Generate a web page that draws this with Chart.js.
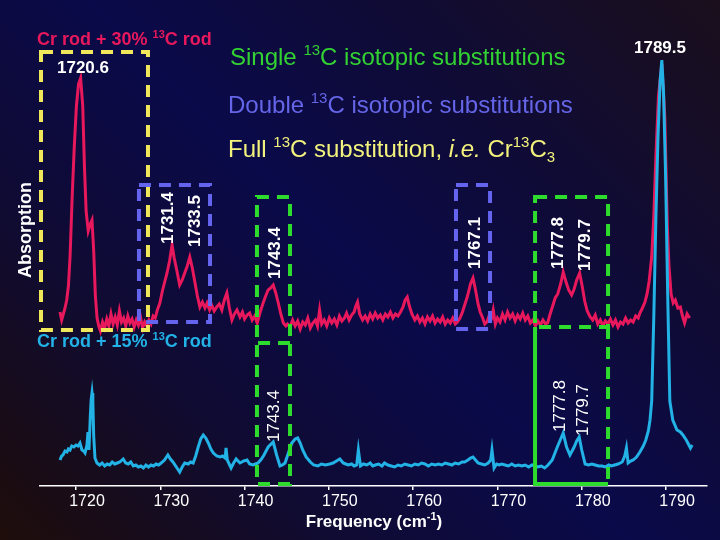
<!DOCTYPE html>
<html>
<head>
<meta charset="utf-8">
<script src="https://cdn.jsdelivr.net/npm/chart.js@4.4.1/dist/chart.umd.min.js"></script>
<style>
  html, body { margin: 0; padding: 0; }
  body {
    width: 720px; height: 540px; overflow: hidden;
    background: linear-gradient(45deg, #1e0d0a 0%, #0f0b34 28%, #0a0a4a 50%, #0f0b36 72%, #1b0f1c 100%);
  }
  canvas { display: block; }
</style>
</head>
<body>
<canvas id="c" width="720" height="540"></canvas>
<script>
// ---------- data (frequency in cm-1, absorption in arbitrary units) ----------
const tickVals = [1720, 1730, 1740, 1750, 1760, 1770, 1780, 1790];

// Cr rod + 30% 13C rod (upper, offset trace)
const redFreq = [
1718.10,1718.30,1718.50,1718.70,1718.90,1719.10,1719.30,1719.55,1719.80,1720.05,1720.30,1720.55,1720.80,1721.00,1721.20,1721.45,1721.70,1721.90,1722.10,1722.30,
1722.50,1722.70,1722.90,1723.15,1723.40,1723.65,1723.90,1724.15,1724.40,1724.65,1724.90,1725.15,1725.40,1725.65,1725.90,1726.15,1726.40,1726.65,1726.90,1727.15,
1727.40,1727.65,1727.90,1728.15,1728.40,1728.65,1728.90,1729.15,1729.40,1729.65,1729.95,1730.25,1730.55,1730.80,1731.10,1731.40,1731.65,1731.95,1732.30,1732.60,
1732.90,1733.20,1733.50,1733.80,1734.10,1734.40,1734.70,1735.00,1735.30,1735.55,1735.85,1736.10,1736.40,1736.70,1737.00,1737.30,1737.60,1737.90,1738.20,1738.50,
1738.80,1739.10,1739.45,1739.75,1740.00,1740.30,1740.60,1740.90,1741.20,1741.50,1741.85,1742.20,1742.50,1742.80,1743.10,1743.40,1743.70,1744.00,1744.30,1744.60,
1744.90,1745.10,1745.40,1745.70,1746.00,1746.30,1746.60,1746.90,1747.20,1747.50,1747.80,1748.10,1748.40,1748.65,1748.90,1749.15,1749.45,1749.75,1750.05,1750.35,
1750.65,1750.95,1751.25,1751.55,1751.85,1752.10,1752.40,1752.70,1753.00,1753.20,1753.40,1753.65,1754.00,1754.30,1754.60,1754.90,1755.20,1755.50,1755.80,1756.10,
1756.40,1756.70,1757.00,1757.30,1757.60,1757.90,1758.20,1758.50,1758.80,1759.05,1759.30,1759.55,1759.85,1760.20,1760.50,1760.80,1761.10,1761.40,1761.70,1762.00,
1762.30,1762.60,1762.90,1763.20,1763.50,1763.80,1764.10,1764.40,1764.70,1765.00,1765.25,1765.55,1765.85,1766.15,1766.45,1766.80,1767.10,1767.40,1767.70,1767.95,
1768.25,1768.50,1768.75,1769.00,1769.30,1769.50,1769.75,1770.00,1770.30,1770.60,1770.90,1771.20,1771.50,1771.80,1772.10,1772.40,1772.70,1773.00,1773.30,1773.60,
1773.90,1774.20,1774.50,1774.80,1775.10,1775.40,1775.70,1775.95,1776.25,1776.55,1776.85,1777.15,1777.50,1777.80,1778.10,1778.45,1778.80,1779.10,1779.40,1779.75,
1780.05,1780.35,1780.65,1781.00,1781.30,1781.60,1781.90,1782.20,1782.50,1782.80,1783.10,1783.40,1783.70,1784.00,1784.30,1784.60,1784.90,1785.20,1785.50,1785.80,
1786.10,1786.40,1786.70,1786.90,1787.20,1787.50,1787.75,1788.00,1788.30,1788.55,1788.80,1789.10,1789.50,1789.85,1790.15,1790.35,1790.60,1790.85,1791.10,1791.40,
1791.70,1791.95,1792.20,1792.50,1792.80];
const redAbs = [
1.74,1.66,1.72,1.78,1.86,2.00,2.30,2.90,3.40,3.80,4.02,4.08,3.80,3.20,2.75,2.55,2.62,2.66,2.35,1.90,
1.68,1.60,1.55,1.64,1.58,1.67,1.60,1.72,1.62,1.69,1.61,1.75,1.64,1.68,1.60,1.70,1.63,1.67,1.59,1.66,
1.61,1.69,1.58,1.64,1.60,1.66,1.62,1.70,1.68,1.76,1.83,1.95,2.05,2.13,2.25,2.41,2.28,2.16,2.01,2.06,
2.13,2.20,2.29,2.18,2.04,1.90,1.79,1.84,1.78,1.83,1.76,1.81,1.75,1.79,1.82,1.76,1.86,1.93,1.78,1.66,
1.72,1.76,1.69,1.74,1.67,1.71,1.73,1.66,1.70,1.63,1.74,1.83,1.90,1.96,1.98,2.01,1.93,1.83,1.72,1.63,
1.60,1.62,1.59,1.66,1.60,1.65,1.57,1.64,1.61,1.68,1.58,1.63,1.66,1.60,1.76,1.62,1.66,1.60,1.68,1.63,
1.67,1.61,1.70,1.65,1.68,1.73,1.66,1.71,1.74,1.80,1.84,1.72,1.66,1.70,1.65,1.72,1.67,1.73,1.68,1.71,
1.66,1.72,1.69,1.74,1.68,1.72,1.70,1.74,1.79,1.86,1.89,1.80,1.72,1.66,1.70,1.64,1.68,1.62,1.69,1.65,
1.70,1.63,1.67,1.64,1.69,1.62,1.66,1.63,1.68,1.62,1.64,1.68,1.74,1.82,1.90,2.02,2.08,1.96,1.82,1.74,
1.68,1.62,1.64,1.70,1.68,1.76,1.62,1.68,1.64,1.72,1.66,1.74,1.68,1.72,1.65,1.71,1.67,1.73,1.66,1.70,
1.63,1.66,1.60,1.65,1.61,1.66,1.62,1.63,1.72,1.80,1.88,1.92,2.02,2.14,2.05,1.96,1.91,1.97,2.06,2.13,
2.00,1.85,1.75,1.69,1.66,1.71,1.62,1.66,1.60,1.65,1.62,1.67,1.61,1.66,1.59,1.64,1.62,1.68,1.63,1.66,
1.64,1.70,1.68,1.73,1.78,1.84,1.92,2.05,2.29,2.70,3.30,3.90,4.22,3.70,2.60,2.20,1.92,1.83,1.86,1.78,
1.79,1.70,1.63,1.72,1.68];

// Cr rod + 15% 13C rod (lower trace)
const cyanFreq = [
1718.10,1718.30,1718.46,1718.70,1718.93,1719.10,1719.29,1719.50,1719.76,1720.00,1720.24,1720.47,1720.71,1720.90,1721.07,1721.30,1721.42,1721.54,1721.70,1721.80,
1721.90,1722.00,1722.10,1722.25,1722.49,1722.80,1723.10,1723.40,1723.70,1724.00,1724.30,1724.60,1724.90,1725.20,1725.60,1725.90,1726.20,1726.50,1726.80,1727.10,
1727.40,1727.70,1728.00,1728.30,1728.60,1728.90,1729.20,1729.50,1729.80,1730.10,1730.50,1730.90,1731.20,1731.50,1731.90,1732.30,1732.60,1732.90,1733.30,1733.60,
1733.90,1734.20,1734.50,1734.80,1735.10,1735.40,1735.70,1736.00,1736.30,1736.70,1737.10,1737.40,1737.70,1737.80,1737.95,1738.40,1738.70,1739.00,1739.45,1739.90,
1740.30,1740.60,1741.00,1741.30,1741.60,1742.00,1742.30,1742.80,1743.40,1743.80,1744.20,1744.50,1744.80,1745.20,1745.60,1746.00,1746.30,1746.60,1746.90,1747.30,
1747.80,1748.20,1748.70,1749.10,1749.60,1750.10,1750.50,1750.90,1751.30,1751.70,1752.00,1752.30,1752.70,1753.00,1753.30,1753.50,1753.75,1754.10,1754.50,1754.90,
1755.20,1755.50,1755.90,1756.30,1756.60,1757.00,1757.40,1757.80,1758.20,1758.60,1759.00,1759.40,1759.80,1760.20,1760.60,1761.00,1761.40,1761.80,1762.20,1762.60,
1763.00,1763.40,1763.80,1764.20,1764.60,1764.96,1765.40,1765.80,1766.10,1766.50,1766.80,1767.10,1767.40,1767.70,1768.10,1768.50,1768.90,1769.20,1769.35,1769.60,
1769.90,1770.20,1770.50,1770.90,1771.30,1771.70,1772.10,1772.50,1772.90,1773.30,1773.70,1774.10,1774.45,1774.80,1775.20,1775.60,1776.00,1776.50,1777.10,1777.50,
1777.80,1778.20,1778.60,1779.10,1779.40,1779.70,1780.00,1780.40,1780.80,1781.20,1781.60,1782.00,1782.40,1782.80,1783.20,1783.50,1783.90,1784.30,1784.80,1785.10,
1785.30,1785.50,1785.80,1786.10,1786.50,1786.90,1787.30,1787.60,1787.90,1788.10,1788.30,1788.55,1788.80,1789.05,1789.30,1789.50,1789.70,1789.95,1790.20,1790.45,
1790.80,1791.30,1791.70,1792.00,1792.40,1792.90,1793.10];
const cyanAbs = [
0.26,0.30,0.31,0.35,0.34,0.37,0.36,0.40,0.39,0.41,0.40,0.43,0.36,0.35,0.33,0.41,0.54,0.36,0.70,0.86,
0.93,0.84,0.50,0.28,0.23,0.21,0.23,0.20,0.22,0.21,0.24,0.22,0.23,0.24,0.27,0.23,0.22,0.24,0.20,0.21,
0.19,0.20,0.18,0.21,0.19,0.21,0.20,0.22,0.21,0.23,0.26,0.31,0.27,0.24,0.19,0.14,0.19,0.23,0.22,0.24,
0.23,0.30,0.39,0.47,0.51,0.48,0.43,0.37,0.33,0.30,0.29,0.30,0.28,0.38,0.26,0.18,0.23,0.27,0.23,0.25,
0.26,0.22,0.21,0.22,0.23,0.27,0.31,0.39,0.44,0.31,0.20,0.21,0.23,0.33,0.43,0.47,0.48,0.43,0.36,0.29,
0.24,0.21,0.20,0.22,0.21,0.22,0.23,0.25,0.27,0.23,0.22,0.21,0.22,0.20,0.21,0.36,0.20,0.22,0.21,0.23,
0.20,0.21,0.22,0.20,0.23,0.21,0.20,0.19,0.21,0.20,0.22,0.21,0.20,0.22,0.21,0.23,0.22,0.20,0.22,0.21,
0.22,0.21,0.23,0.22,0.21,0.23,0.22,0.24,0.24,0.26,0.28,0.29,0.26,0.23,0.22,0.21,0.23,0.26,0.36,0.18,
0.22,0.21,0.22,0.21,0.20,0.22,0.20,0.21,0.20,0.21,0.19,0.21,0.20,0.19,0.20,0.18,0.21,0.26,0.39,0.47,
0.53,0.39,0.31,0.39,0.45,0.49,0.36,0.22,0.21,0.22,0.21,0.20,0.20,0.19,0.21,0.20,0.21,0.22,0.24,0.30,
0.38,0.23,0.25,0.26,0.29,0.34,0.40,0.46,0.55,0.66,0.85,1.70,2.70,3.50,4.05,4.26,3.95,3.10,1.90,0.85,
0.66,0.56,0.54,0.51,0.46,0.38,0.41];

// ---------- styling / annotation layout ----------
const FONT = '"Liberation Sans", Arial, Helvetica, sans-serif';
const RED = '#e8185c', CYAN = '#22b2e6', GREEN = '#2edc2e', BLUE = '#6464ee', YELLOW = '#f0e85a';

// boxes in data coordinates: [x0, x1, y0, y1]
const boxes = [
  {c: YELLOW, r: [1715.85, 1728.54, 1.56, 4.34]},
  {c: BLUE,   r: [1727.47, 1735.90, 1.64, 3.01]},
  {c: BLUE,   r: [1765.08, 1769.12, 1.57, 3.01]},
  {c: GREEN,  r: [1741.47, 1745.39, 0.02, 2.89]},
  {c: GREEN,  r: [1774.46, 1783.12, 1.59, 2.89]}
];

function rich(ctx, segs, x, y, size, weight, color, align) {
  let total = 0;
  const parts = segs.map(s => {
    const small = s.sup || s.sub;
    const sz = small ? Math.round(size * 0.62) : size;
    const font = (s.it ? 'italic ' : '') + weight + ' ' + sz + 'px ' + FONT;
    ctx.font = font;
    const w = ctx.measureText(s.t).width;
    total += w;
    return {t: s.t, font, w, dy: s.sup ? -size * 0.4 : (s.sub ? size * 0.22 : 0)};
  });
  let cx = align === 'center' ? x - total / 2 : x;
  ctx.fillStyle = color;
  ctx.textAlign = 'left';
  ctx.textBaseline = 'alphabetic';
  parts.forEach(p => { ctx.font = p.font; ctx.fillText(p.t, cx, y + p.dy); cx += p.w; });
}

function rot(ctx, text, cx, cy, size, weight, color) {
  ctx.save();
  ctx.translate(cx, cy);
  ctx.rotate(-Math.PI / 2);
  ctx.font = weight + ' ' + size + 'px ' + FONT;
  ctx.fillStyle = color;
  ctx.textAlign = 'center';
  ctx.textBaseline = 'middle';
  ctx.fillText(text, 0, 0);
  ctx.restore();
}

const overlay = {
  id: 'overlay',
  afterDatasetsDraw(chart) {
    const {ctx, scales: {x, y}} = chart;
    const X = v => x.getPixelForValue(v), Y = v => y.getPixelForValue(v);
    ctx.save();
    ctx.lineWidth = 4;
    ctx.setLineDash([12, 8]);
    boxes.forEach(b => {
      ctx.strokeStyle = b.c;
      ctx.strokeRect(X(b.r[0]), Y(b.r[3]), X(b.r[1]) - X(b.r[0]), Y(b.r[2]) - Y(b.r[3]));
    });
    // divider of the 1743.4 box
    ctx.strokeStyle = GREEN;
    ctx.beginPath(); ctx.moveTo(X(1741.6), Y(1.43)); ctx.lineTo(X(1745.39), Y(1.43)); ctx.stroke();
    // lower part of the 1777.8/1779.7 box
    ctx.beginPath(); ctx.moveTo(X(1783.12), Y(1.59)); ctx.lineTo(X(1783.12), Y(0.02)); ctx.stroke();
    ctx.setLineDash([]);
    ctx.beginPath();
    ctx.moveTo(X(1774.46), Y(1.59)); ctx.lineTo(X(1774.46), Y(0.02)); ctx.lineTo(X(1783.12), Y(0.02));
    ctx.stroke();
    ctx.restore();
  },
  afterDraw(chart) {
    const ctx = chart.ctx;
    ctx.save();
    rich(ctx, [{t: 'Cr rod + 30% '}, {t: '13', sup: 1}, {t: 'C rod'}], 37, 45, 18, 'bold', RED);
    rich(ctx, [{t: 'Cr rod + 15% '}, {t: '13', sup: 1}, {t: 'C rod'}], 37, 347, 18, 'bold', CYAN);
    rich(ctx, [{t: '1720.6'}], 83, 73, 17, 'bold', '#ffffff', 'center');
    rich(ctx, [{t: '1789.5'}], 660, 53, 17, 'bold', '#ffffff', 'center');
    rich(ctx, [{t: 'Single '}, {t: '13', sup: 1}, {t: 'C isotopic substitutions'}], 230, 65, 24, 'normal', '#33d233');
    rich(ctx, [{t: 'Double '}, {t: '13', sup: 1}, {t: 'C isotopic substitutions'}], 228, 113, 24, 'normal', '#6565e8');
    rich(ctx, [{t: 'Full '}, {t: '13', sup: 1}, {t: 'C substitution, '}, {t: 'i.e.', it: 1}, {t: ' Cr'},
               {t: '13', sup: 1}, {t: 'C'}, {t: '3', sub: 1}], 228, 157, 24, 'normal', '#f2f27c');
    rich(ctx, [{t: 'Frequency (cm'}, {t: '-1', sup: 1}, {t: ')'}], 374, 527, 17, 'bold', '#ffffff', 'center');
    rot(ctx, 'Absorption', 26, 230, 18, 'bold', '#ffffff');
    // peak labels (upper trace, bold)
    [['1731.4', 168, 218], ['1733.5', 195, 221], ['1743.4', 275, 253], ['1767.1', 475, 243],
     ['1777.8', 558, 243], ['1779.7', 585, 245]].forEach(l => rot(ctx, l[0], l[1], l[2], 17, 'bold', '#ffffff'));
    // peak labels (lower trace)
    [['1743.4', 274, 416], ['1777.8', 560, 406], ['1779.7', 583, 410]]
      .forEach(l => rot(ctx, l[0], l[1], l[2], 17, 'normal', '#ffffff'));
    ctx.restore();
  }
};

const toXY = (xs, ys) => xs.map((v, i) => ({x: v, y: ys[i]}));

new Chart(document.getElementById('c'), {
  type: 'line',
  data: {
    datasets: [
      {label: 'Cr rod + 15% 13C rod', data: toXY(cyanFreq, cyanAbs), borderColor: CYAN, borderWidth: 3,
       pointRadius: 0, tension: 0, fill: false},
      {label: 'Cr rod + 30% 13C rod', data: toXY(redFreq, redAbs), borderColor: RED, borderWidth: 3,
       pointRadius: 0, tension: 0, fill: false}
    ]
  },
  options: {
    responsive: false,
    animation: false,
    events: [],
    layout: {padding: {left: 40, right: 13, top: 0, bottom: 0}},
    plugins: {legend: {display: false}, tooltip: {enabled: false}},
    scales: {
      x: {
        type: 'linear',
        min: 1715.73, max: 1794.86,
        afterBuildTicks: s => { s.ticks = tickVals.map(v => ({value: v})); },
        afterFit: s => { s.height = 54; },
        border: {display: true, color: '#ffffff', width: 1.5},
        grid: {display: true, drawOnChartArea: false, drawTicks: true, tickLength: 4, color: '#ffffff', lineWidth: 1.5},
        ticks: {color: '#ffffff', font: {family: FONT, size: 16}, padding: 2, labelOffset: 11, maxRotation: 0,
                callback: v => String(v)}
      },
      y: {
        display: false,
        min: 0, max: 4.86
      }
    }
  },
  plugins: [overlay]
});
</script>
</body>
</html>
